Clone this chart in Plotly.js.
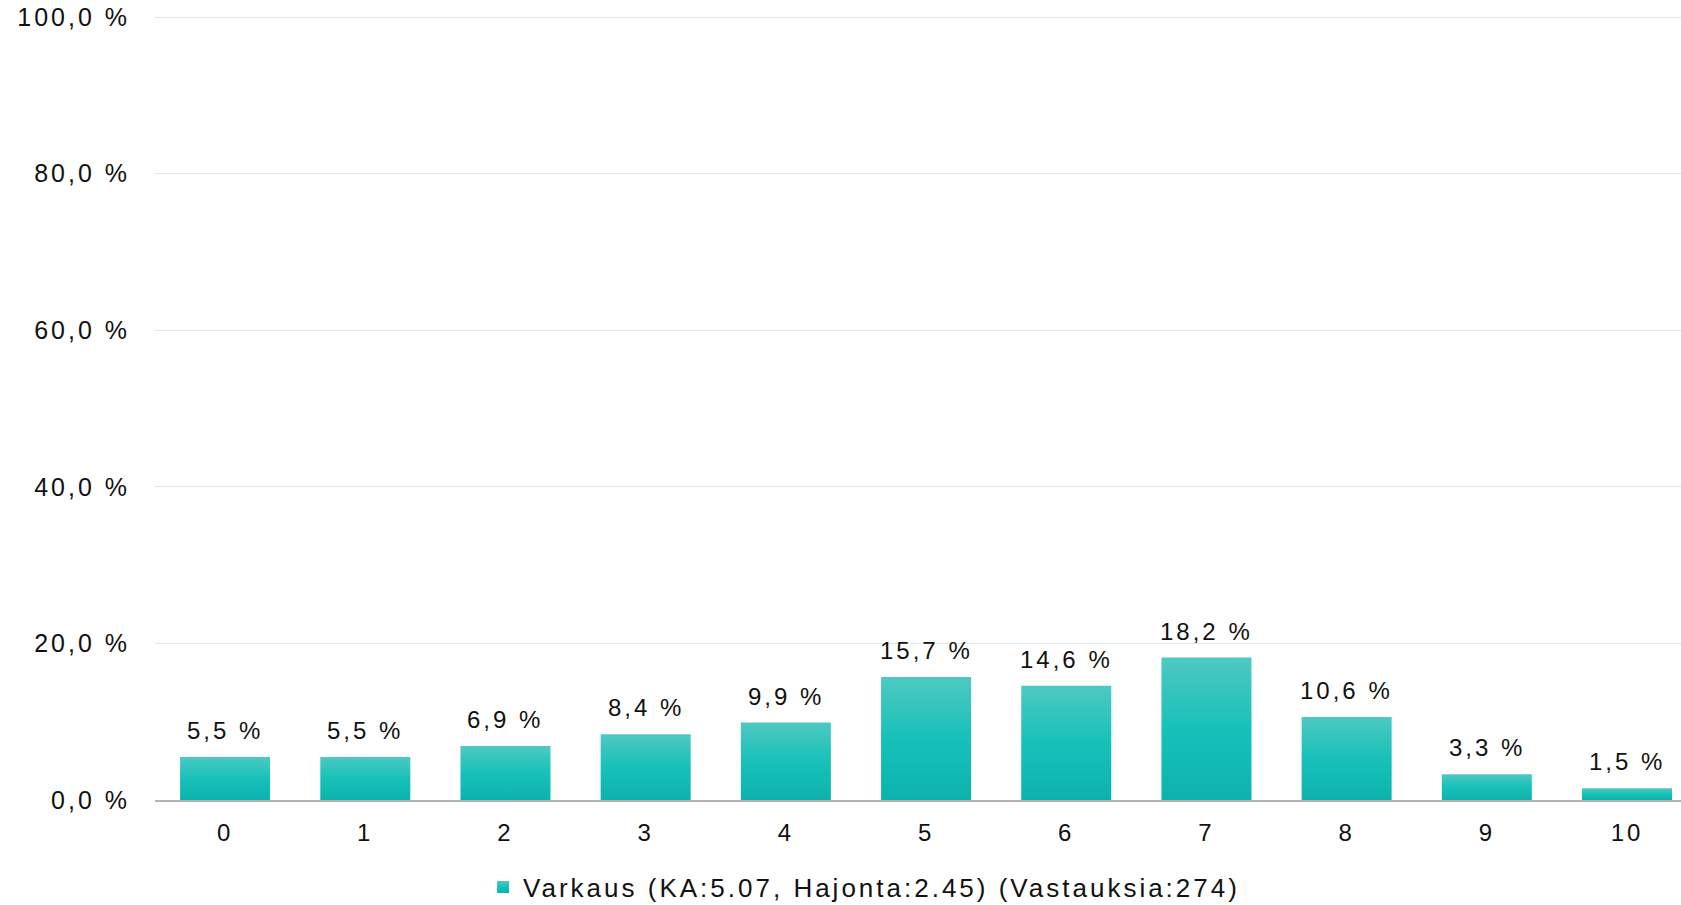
<!DOCTYPE html>
<html>
<head>
<meta charset="utf-8">
<script src="https://cdn.plot.ly/plotly-3.0.1.min.js"></script>
<style>
  html, body { margin: 0; padding: 0; background: #ffffff; }
  #chart { width: 1681px; height: 905px; }
  svg text { letter-spacing: 3px; }
  svg text.legendtext { letter-spacing: 3px; }
</style>
</head>
<body>
<div id="chart"></div>
<script>
// ---- data ----
const categories = ['0', '1', '2', '3', '4', '5', '6', '7', '8', '9', '10'];
const values = [5.5, 5.5, 6.9, 8.4, 9.9, 15.7, 14.6, 18.2, 10.6, 3.3, 1.5];
const seriesName = 'Varkaus (KA:5.07, Hajonta:2.45) (Vastauksia:274)';
const yTickVals = [0, 20, 40, 60, 80, 100];
const yTickText = ['0,0 %', '20,0 %', '40,0 %', '60,0 %', '80,0 %', '100,0 %'];

const fmt = v => v.toFixed(1).replace('.', ',') + ' %';
const FONT = '"Liberation Sans", Arial, sans-serif';

const trace = {
  type: 'bar',
  x: categories,
  y: values,
  name: seriesName,
  marker: { color: '#1bbfb8', line: { width: 0 } },
  hoverinfo: 'none',
  showlegend: true
};

const annotations = categories.map((c, i) => ({
  x: c,
  y: values[i],
  xref: 'x',
  yref: 'y',
  text: fmt(values[i]),
  showarrow: false,
  yanchor: 'bottom',
  xanchor: 'center',
  yshift: 11,
  font: { family: FONT, size: 24, color: '#111111' }
}));

const layout = {
  width: 1681,
  height: 905,
  margin: { l: 155, r: 0, t: 16, b: 105, pad: 0, autoexpand: false },
  paper_bgcolor: '#ffffff',
  plot_bgcolor: '#ffffff',
  bargap: 0.358,
  font: { family: FONT, size: 24, color: '#111111' },
  xaxis: {
    type: 'category',
    range: [-0.5, 10.385],
    showgrid: false,
    zeroline: false,
    showline: true,
    linecolor: '#b3b3b3',
    linewidth: 2,
    ticks: '',
    ticklabelstandoff: 10,
    automargin: false,
    tickfont: { family: FONT, size: 24, color: '#111111' },
    fixedrange: true
  },
  yaxis: {
    range: [0, 100.15],
    tickvals: yTickVals,
    ticktext: yTickText,
    showgrid: true,
    gridcolor: '#dde7f0',
    gridwidth: 1,
    zeroline: false,
    showline: false,
    ticks: '',
    ticklabelstandoff: 24,
    automargin: false,
    tickfont: { family: FONT, size: 25, color: '#111111' },
    fixedrange: true
  },
  showlegend: true,
  legend: {
    orientation: 'h',
    x: 0.215,
    xanchor: 'left',
    y: -0.111,
    yanchor: 'middle',
    font: { family: FONT, size: 26, color: '#111111' },
    bgcolor: 'rgba(0,0,0,0)'
  },
  annotations: annotations
};

Plotly.newPlot('chart', [trace], layout, { displayModeBar: false, staticPlot: true }).then(gd => {
  // vertical gradient fill for the bars (light top, darker bottom)
  const svg = gd.querySelector('svg.main-svg');
  const ns = 'http://www.w3.org/2000/svg';
  let defs = svg.querySelector('defs');
  if (!defs) { defs = document.createElementNS(ns, 'defs'); svg.insertBefore(defs, svg.firstChild); }
  const grad = document.createElementNS(ns, 'linearGradient');
  grad.setAttribute('id', 'barGrad');
  grad.setAttribute('x1', '0'); grad.setAttribute('y1', '0');
  grad.setAttribute('x2', '0'); grad.setAttribute('y2', '1');
  [['0', '#4ec9c2'], ['0.5', '#17c1b9'], ['1', '#0cb3ad']].forEach(([o, c]) => {
    const s = document.createElementNS(ns, 'stop');
    s.setAttribute('offset', o); s.setAttribute('stop-color', c);
    grad.appendChild(s);
  });
  defs.appendChild(grad);
  gd.querySelectorAll('.barlayer .point path').forEach(p => { p.style.fill = 'url(#barGrad)'; });
  gd.querySelectorAll('.legend .legendpoints path').forEach(p => { p.style.fill = 'url(#barGrad)'; });
});
</script>
</body>
</html>
